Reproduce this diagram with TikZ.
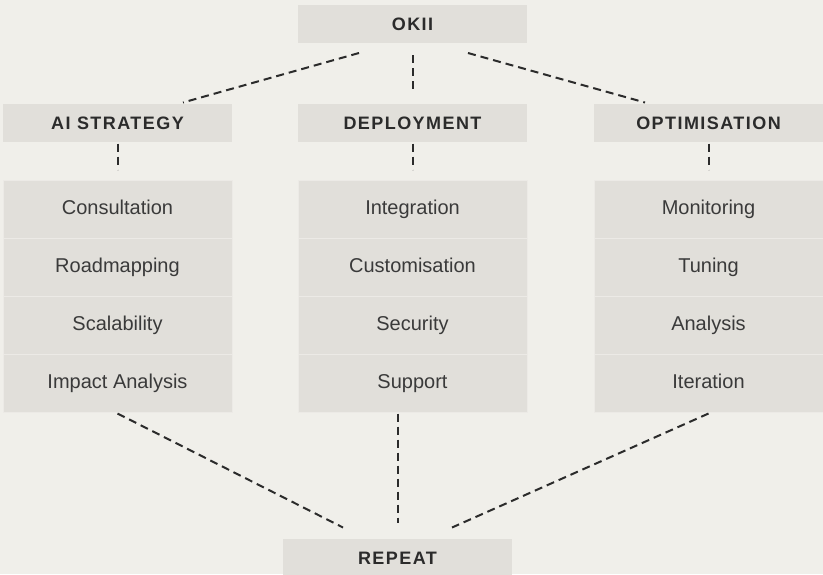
\documentclass[tikz,border=0pt]{standalone}
\usepackage{fontspec}
\setmainfont{Liberation Sans}
\newfontfamily\capsfont[LetterSpace=8]{Liberation Sans}
\usepackage{tikz}
\usetikzlibrary{positioning}
\definecolor{okbg}{HTML}{F0EFEA}
\definecolor{okbox}{HTML}{E1DFDA}
\definecolor{okline}{HTML}{ECEAE6}
\definecolor{okink}{HTML}{2B2B2B}
\definecolor{oktext}{HTML}{3A3A3A}

\begin{document}
\begin{tikzpicture}[x=1pt, y=1pt,
  head/.style={rectangle, fill=okbox, minimum width=114.5pt, minimum height=19pt, inner sep=0pt, outer sep=0pt, text height=6.6pt, text depth=0pt, font=\capsfont\bfseries\fontsize{9}{11}\selectfont, text=okink},
  item/.style={rectangle, fill=okbox, draw=okline, line width=0.5pt, minimum width=114.5pt, minimum height=29pt, inner sep=0pt, outer sep=0pt, text height=7.4pt, text depth=2.2pt, font=\fontsize{10}{12}\selectfont, text=oktext},
  link/.style={draw=okink, line width=1pt, dash pattern=on 4pt off 2.5pt}
]
\fill[okbg] (0,0) rectangle (411.5,-287);
\useasboundingbox (0,0) rectangle (411.5,-287);
\node[head] (okii) at (206.25,-12) {OKII};
\node[head] (strat) at (58.75,-61.25) {AI STRATEGY};
\node[head] (depl) at (206.25,-61.25) {DEPLOYMENT};
\node[head] (opt) at (354.25,-61.25) {OPTIMISATION};
% AI strategy column
\node[item, below=19.5pt of strat] (s1) {Consultation};
\node[item, below=0pt of s1] (s2) {Roadmapping};
\node[item, below=0pt of s2] (s3) {Scalability};
\node[item, below=0pt of s3] (s4) {Impact Analysis};
% deployment column
\node[item, below=19.5pt of depl] (d1) {Integration};
\node[item, below=0pt of d1] (d2) {Customisation};
\node[item, below=0pt of d2] (d3) {Security};
\node[item, below=0pt of d3] (d4) {Support};
% optimisation column
\node[item, below=19.5pt of opt] (o1) {Monitoring};
\node[item, below=0pt of o1] (o2) {Tuning};
\node[item, below=0pt of o2] (o3) {Analysis};
\node[item, below=0pt of o3] (o4) {Iteration};
\node[head] (repeat) at (198.75,-278.75) {REPEAT};
\draw[link] ([xshift=-26.75pt, yshift=-5pt]okii.south) -- ([xshift=32.75pt, yshift=0.5pt]strat.north);
\draw[link] ([yshift=-6pt]okii.south) -- ([yshift=6pt]depl.north);
\draw[link] ([xshift=27.75pt, yshift=-5pt]okii.south) -- ([xshift=-31.75pt, yshift=0.5pt]opt.north);
\draw[link] ([yshift=-1pt]strat.south) -- ([yshift=5.5pt]s1.north);
\draw[link] ([yshift=-1pt]depl.south) -- ([yshift=5.5pt]d1.north);
\draw[link] ([yshift=-1pt]opt.south) -- ([yshift=5.5pt]o1.north);
% back down to repeat
\coordinate (rtop) at (repeat.north |- d4.south);
\draw[link] ([yshift=-0.5pt]s4.south) -- ([xshift=-27.25pt, yshift=5.5pt]repeat.north);
\draw[link] ([yshift=-0.5pt]rtop) -- ([yshift=8pt]repeat.north);
\draw[link] ([yshift=-0.5pt]o4.south) -- ([xshift=27.25pt, yshift=5.5pt]repeat.north);
\end{tikzpicture}
\end{document}
